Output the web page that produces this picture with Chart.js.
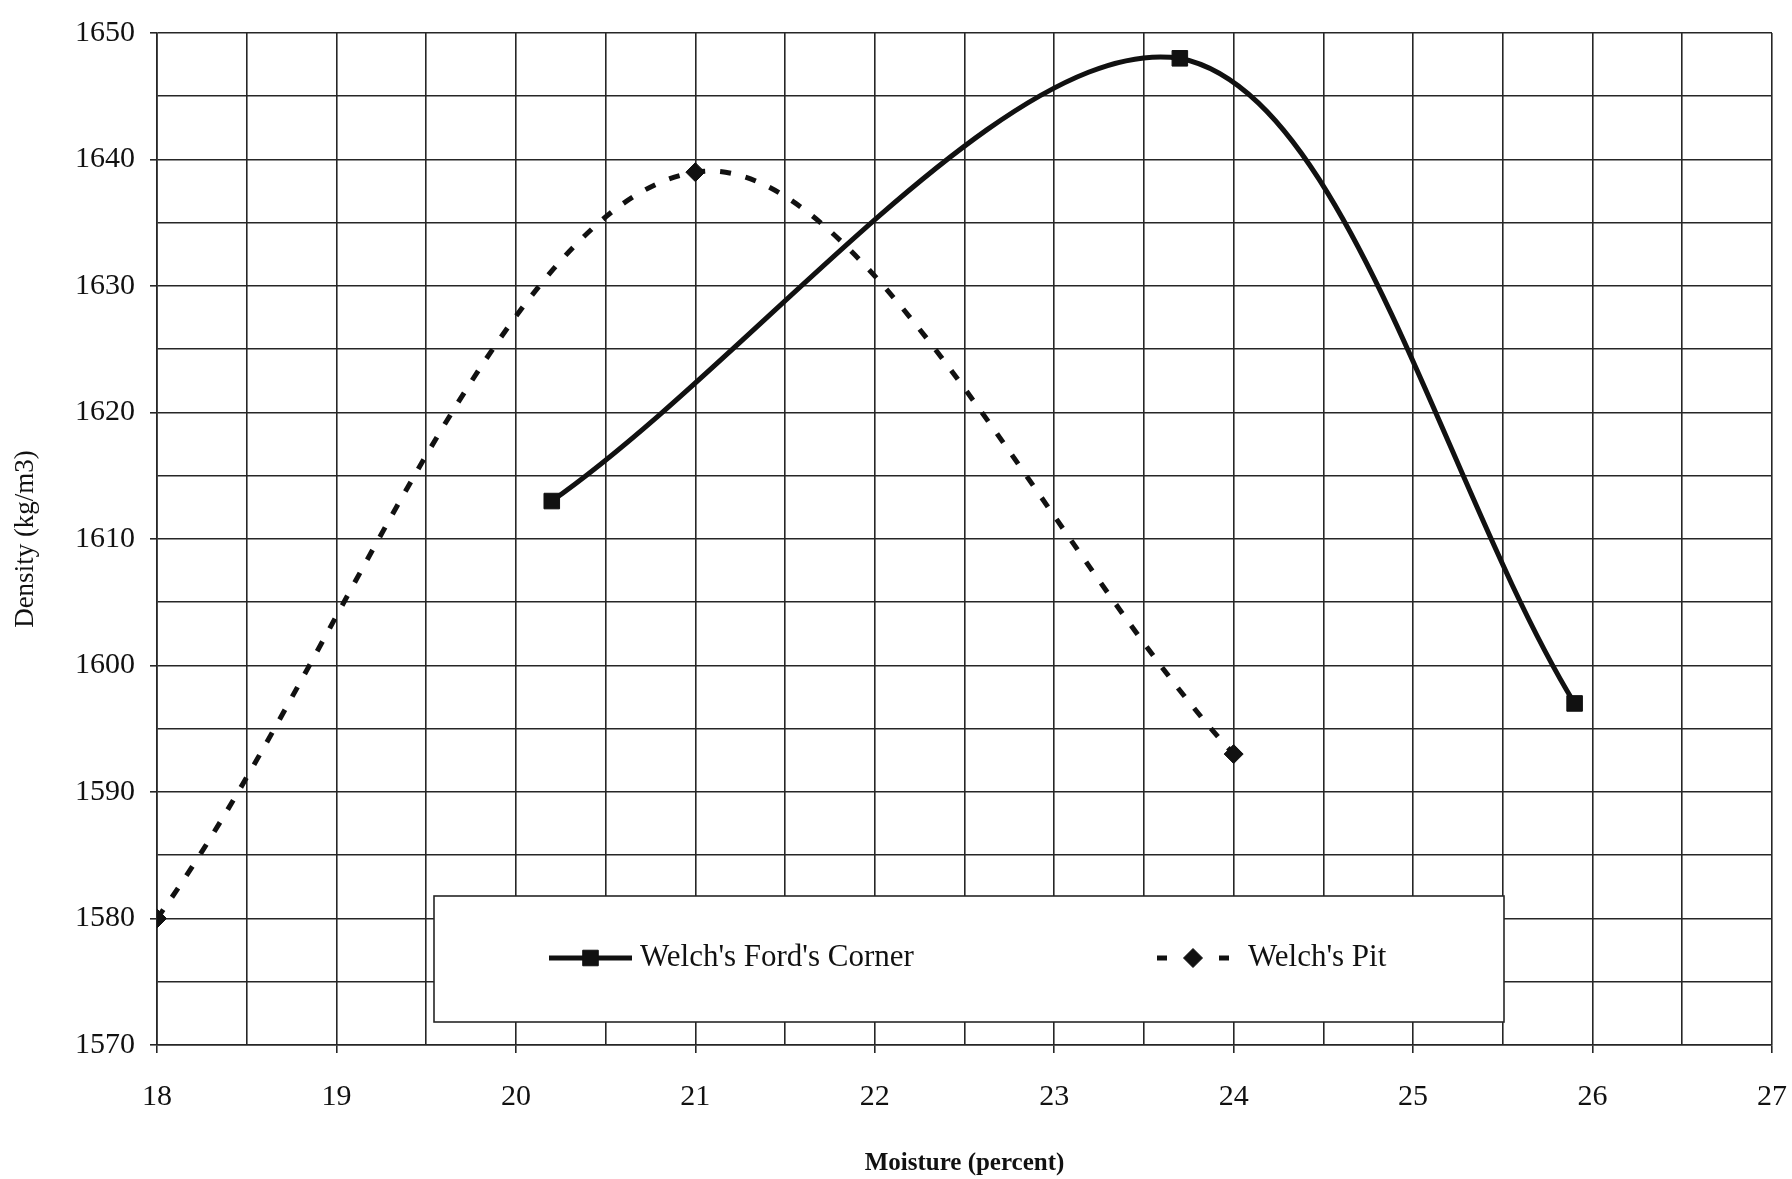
<!DOCTYPE html>
<html>
<head>
<meta charset="utf-8">
<script src="https://cdn.jsdelivr.net/npm/chart.js@4"></script>
<style>
  body { margin: 0; background: #fff; }
  canvas { display: block; }
</style>
</head>
<body>
<canvas id="myChart" width="1792" height="1179"></canvas>
<script>
// ---- data ----
const fordMoisture = [20.2, 23.7, 25.9];
const fordDensity = [1613, 1648, 1597];
const pitMoisture = [18, 21, 24];
const pitDensity = [1580, 1639, 1593];
const seriesNames = ["Welch's Ford's Corner", "Welch's Pit"];

const serif = "'Liberation Serif', 'Times New Roman', serif";
const ink = "#111";
const gridInk = "#262626";

const toPoints = (xs, ys) => xs.map((x, i) => ({ x: x, y: ys[i] }));

// legend box inside the plot, like the original
const boxLegend = {
  id: "boxLegend",
  afterDraw(chart) {
    const c = chart.ctx;
    const sets = chart.data.datasets;
    const left = 434, top = 896, w = 1070, h = 126;
    c.save();
    c.fillStyle = "#fff";
    c.fillRect(left, top, w, h);
    c.strokeStyle = gridInk;
    c.lineWidth = 1.6;
    c.strokeRect(left, top, w, h);

    const rowY = 958;
    const items = [
      { x0: 549, x1: 632, tx: 640 },
      { x0: 1157, x1: 1229, tx: 1248 }
    ];
    items.forEach((it, i) => {
      const ds = sets[i];
      c.strokeStyle = ink;
      c.lineWidth = ds.borderWidth;
      c.beginPath();
      if (ds.borderDash) {
        c.moveTo(it.x0, rowY); c.lineTo(it.x0 + 10, rowY);
        c.moveTo(it.x1 - 10, rowY); c.lineTo(it.x1, rowY);
      } else {
        c.moveTo(it.x0, rowY); c.lineTo(it.x1, rowY);
      }
      c.stroke();
      c.fillStyle = ink;
      c.lineWidth = 1;
      Chart.helpers.drawPoint(c, {
        pointStyle: ds.pointStyle,
        radius: ds.pointRadius,
        borderWidth: 1
      }, (it.x0 + it.x1) / 2, rowY);
      c.fillStyle = ink;
      c.font = "31px " + serif;
      c.textBaseline = "middle";
      c.textAlign = "left";
      c.fillText(ds.label, it.tx, rowY);
    });
    c.restore();
  }
};

const majorOnlyTick = (step) => (ctx) =>
  (ctx.tick && Math.abs(ctx.tick.value % step) < 1e-9) ? gridInk : "rgba(0,0,0,0)";

const ctx = document.getElementById("myChart");
const config = {
  type: "scatter",
  data: {
    datasets: [{
      label: seriesNames[0],
      data: toPoints(fordMoisture, fordDensity),
      showLine: true,
      borderColor: ink,
      backgroundColor: ink,
      borderWidth: 5,
      tension: 0.33,
      pointStyle: "rect",
      pointRadius: 11,
      pointBorderWidth: 1
    }, {
      label: seriesNames[1],
      data: toPoints(pitMoisture, pitDensity),
      showLine: true,
      borderColor: ink,
      backgroundColor: ink,
      borderWidth: 5,
      borderDash: [11, 15],
      tension: 0.33,
      pointStyle: "rectRot",
      pointRadius: 9.5,
      pointBorderWidth: 1
    }]
  },
  options: {
    responsive: false,
    animation: false,
    layout: { padding: { top: 28, right: 20, left: 0, bottom: 0 } },
    plugins: {
      legend: { display: false },
      tooltip: { enabled: false }
    },
    scales: {
      x: {
        type: "linear",
        min: 18,
        max: 27,
        afterFit: (s) => {
          s.height = 134;
          s.paddingLeft = 0;
          s.paddingRight = 0;
        },
        ticks: {
          stepSize: 0.5,
          autoSkip: false,
          maxRotation: 0,
          padding: 26,
          color: ink,
          font: { family: serif, size: 30 },
          callback: (v) => (v % 1 === 0 ? v : "")
        },
        grid: {
          color: gridInk,
          lineWidth: 1.6,
          tickLength: 8,
          tickColor: majorOnlyTick(1)
        },
        border: { color: gridInk, width: 1.6 },
        title: {
          display: true,
          text: "Moisture (percent)",
          color: ink,
          font: { family: serif, size: 25, weight: "bold" },
          padding: { top: 0, bottom: 0 }
        }
      },
      y: {
        min: 1570,
        max: 1650,
        afterFit: (s) => { s.width = 157; },
        ticks: {
          stepSize: 5,
          autoSkip: false,
          padding: 15,
          color: ink,
          font: { family: serif, size: 30 },
          callback: (v) => (v % 10 === 0 ? v : "")
        },
        grid: {
          color: gridInk,
          lineWidth: 1.6,
          tickLength: 7,
          tickColor: majorOnlyTick(10)
        },
        border: { color: gridInk, width: 1.6 },
        title: {
          display: true,
          text: "Density (kg/m3)",
          color: ink,
          font: { family: serif, size: 27 },
          padding: { top: 10, bottom: 0 }
        }
      }
    }
  },
  plugins: [boxLegend]
};
const myChart = new Chart(ctx, config);
</script>
</body>
</html>
